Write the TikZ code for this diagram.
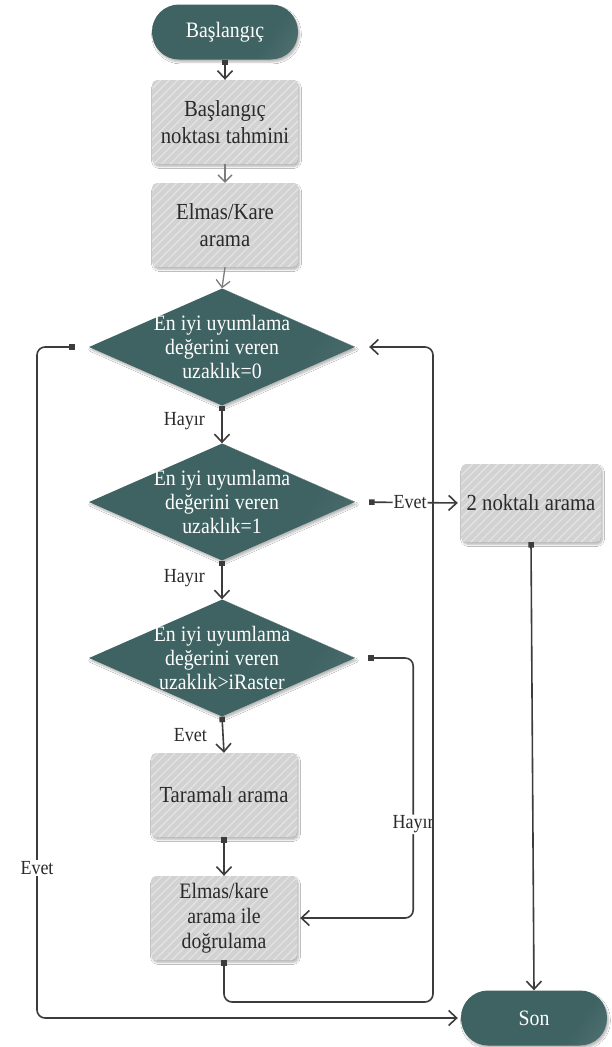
\documentclass[tikz,border=0pt]{standalone}
\usepackage{fontspec}
\setmainfont{Liberation Serif}[FakeStretch=0.9]
\usetikzlibrary{shapes.geometric,arrows.meta,patterns.meta,shadows.blur}

\definecolor{tealfill}{HTML}{3F6262}
\definecolor{boxgray}{HTML}{D2D2D2}
\definecolor{stripe}{HTML}{E3E3E3}
\definecolor{wire}{HTML}{3C3C3C}
\definecolor{softwire}{HTML}{7C7C7C}
\definecolor{ink}{HTML}{2A2A2A}

% dark teal fill with a light sheen at the lower right edge
\pgfdeclarehorizontalshading{tealshade}{100bp}{color(0bp)=(tealfill); color(68bp)=(tealfill); color(88bp)=(tealfill!88!white); color(100bp)=(tealfill!55!white)}

\tikzset{
  softshadow/.style={blur shadow={shadow xshift=1.5pt, shadow yshift=-2.5pt, shadow opacity=28, shadow blur steps=6}},
  terminal/.style={rectangle, rounded corners=27pt, minimum width=146pt, minimum height=55pt,
    shading=tealshade, shading angle=-35, text=white, font=\fontsize{22}{26}\selectfont, softshadow},
  procbox/.style={rectangle, rounded corners=5pt, minimum width=146pt, minimum height=84pt,
    fill=boxgray, postaction={pattern={Lines[angle=45,distance=6pt,line width=1.3pt]}, pattern color=stripe},
    align=center, text=ink, font=\fontsize{23}{27}\selectfont, softshadow},
  decision/.style={diamond, minimum width=266pt, minimum height=117pt, inner sep=0pt,
    shading=tealshade, shading angle=-35, softshadow},
  dtext/.style={align=center, text=white, font=\fontsize{22}{24}\selectfont},
  lbl/.style={text=ink, font=\fontsize{20}{22}\selectfont, inner sep=1pt},
  wireline/.style={draw=wire, line width=1.6pt, rounded corners=8pt},
  sqarrow/.style={wireline, {Square[length=5.5pt,width=5.5pt]}-{Straight Barb[length=8pt,width=15pt]}},
  softarrow/.style={draw=softwire, line width=1.3pt, -{Straight Barb[length=7pt,width=14pt]}},
}

\begin{document}
\begin{tikzpicture}[x=1pt,y=-1pt]
  \useasboundingbox (0,0) rectangle (612,1047);
  \fill[white] (0,0) rectangle (612,1047);

  % flow nodes
  \node[terminal] (start) at (225,32) {Başlangıç};
  \node[procbox] (b1) at (225,122) {Başlangıç\\noktası tahmini};
  \node[procbox] (b2) at (225,225) {Elmas/Kare\\arama};

  \node[decision] (d1) at (222,347) {};
  \node[dtext] (d1t) at (d1.center) {En iyi uyumlama\\değerini veren\\uzaklık=0};

  \node[decision] (d2) at (222,502) {};
  \node[dtext] (d2t) at (d2.center) {En iyi uyumlama\\değerini veren\\uzaklık=1};

  \node[procbox, minimum width=140pt, minimum height=78pt] (b4) at (531,503) {2 noktalı arama};

  \node[decision] (d3) at (222,658) {};
  \node[dtext] (d3t) at (d3.center) {En iyi uyumlama\\değerini veren\\uzaklık>iRaster};

  \node[procbox] (b5) at (224,795) {Taramalı arama};
  \node[procbox, font=\fontsize{22}{25}\selectfont] (b6) at (224,918) {Elmas/kare\\arama ile\\doğrulama};

  \node[terminal] (son) at (534,1018) {Son};

  % bend points of the return loops
  \coordinate (loopR) at (433,1002);
  \coordinate (loopL) at (37,347);

  % straight connectors
  \draw[sqarrow] (start.south) -- (b1.north);
  \draw[softarrow] (b1.south) -- (b2.north);
  \draw[softarrow] (b2.south) -- (d1.north);
  \draw[sqarrow] (d1.south) -- (d2.north);
  \node[lbl, anchor=east] (h1) at (206,421) {Hayır};
  \draw[sqarrow] (d2.south) -- (d3.north);
  \node[lbl, anchor=east] (h2) at (206,578) {Hayır};
  \draw[sqarrow] (d3.south) -- (b5.north);
  \node[lbl, anchor=east] (e3) at (208,735) {Evet};
  \draw[sqarrow] (b5.south) -- (b6.north);
  \draw[sqarrow] (b4.south) -- (son.north);

  % distance > iRaster : No
  \draw[sqarrow, shorten <=13pt, shorten >=3pt] (d3.east) -- ++(58,0) |- (b6.east)
    node[lbl, fill=white, pos=0.32] (h3) {Hayır};

  % distance = 1 : Yes
  \draw[sqarrow, shorten <=14pt, shorten >=3pt] (d2.east) -- (b4.west)
    node[lbl, fill=white, pos=0.52] (e2) {Evet};

  % return loop from the verification box
  \draw[sqarrow, shorten >=14pt] (b6.south) |- (loopR) |- (d1.east);

  % distance = 0 : Yes
  \draw[sqarrow, shorten <=14pt, shorten >=3pt] (d1.west) -- (loopL) |- (son.west);
  \node[lbl, fill=white] (e1) at (37,868) {Evet};
\end{tikzpicture}
\end{document}
